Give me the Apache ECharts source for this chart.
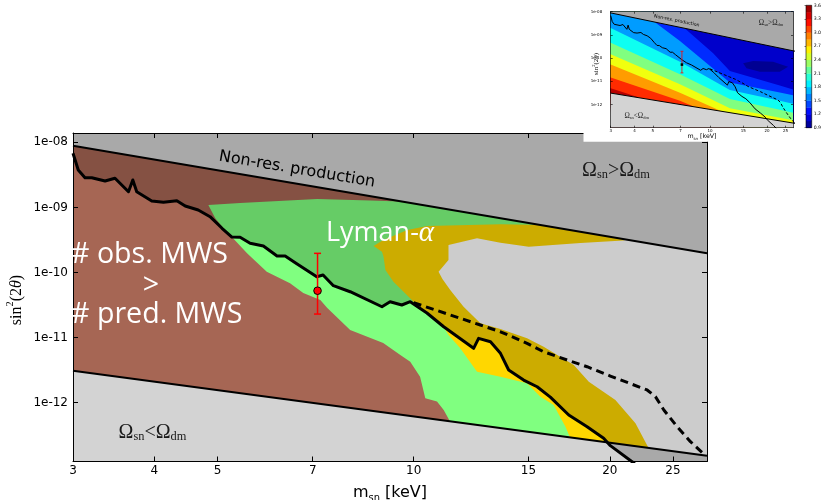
<!DOCTYPE html>
<html>
<head>
<meta charset="utf-8">
<title>Sterile neutrino parameter space</title>
<script src="https://cdn.jsdelivr.net/npm/echarts@6.0.0/dist/echarts.min.js"></script>
<style>
  html, body { margin: 0; padding: 0; background: #ffffff; }
  #chart { width: 826px; height: 500px; }
</style>
</head>
<body>
<div id="chart"></div>
<script>
// ---------- axis ranges and ticks ----------
const massRange = [3, 28.2];              // m_sn [keV], main panel
const angleRange = [1.25e-13, 1.39e-8];   // sin^2(2θ), main panel
const insetMassRange = [3, 27.4];
const insetAngleRange = [1e-13, 1e-8];
const massTicks = [3, 4, 5, 7, 10, 15, 20, 25];
const angleTicks = [1e-12, 1e-11, 1e-10, 1e-9, 1e-8];
const colorbarLevels = [0.9, 1.05, 1.2, 1.35, 1.5, 1.65, 1.8, 1.95, 2.1, 2.25, 2.4, 2.55, 2.7, 2.85, 3.0, 3.15, 3.3, 3.45, 3.6];

// ---------- relic abundance boundaries ----------
const nonResLine = [[3, 8.87e-9], [28.2, 1.97e-10]];
const underAbundantLine = [[3, 3.1e-12], [28.2, 1.53e-13]];

// ---------- Milky Way satellite limit (solid) ----------
const mwsLimit = [
  [3.00, 6.78e-9], [3.056, 3.75e-9], [3.13, 2.86e-9], [3.205, 2.86e-9], [3.36, 2.54e-9],
  [3.48, 2.80e-9], [3.65, 1.74e-9], [3.706, 2.64e-9], [3.758, 1.74e-9], [3.963, 1.25e-9],
  [4.13, 1.20e-9], [4.33, 1.27e-9], [4.46, 1.05e-9], [4.67, 9.12e-10], [4.87, 7.20e-10],
  [5.08, 4.78e-10], [5.26, 3.51e-10], [5.415, 3.47e-10], [5.61, 2.81e-10], [5.88, 2.55e-10],
  [6.17, 1.79e-10], [6.35, 1.79e-10], [6.58, 1.41e-10], [7.10, 8.62e-11], [7.26, 9.15e-11],
  [7.53, 6.27e-11], [7.99, 5.07e-11], [8.94, 2.98e-11], [9.20, 3.56e-11], [9.59, 3.17e-11],
  [9.88, 3.56e-11], [10.48, 2.39e-11], [11.12, 1.47e-11], [12.36, 6.85e-12], [12.58, 9.75e-12],
  [13.12, 8.65e-12], [13.59, 5.74e-12], [13.99, 3.18e-12], [14.75, 2.23e-12], [15.47, 1.76e-12],
  [16.21, 1.22e-12], [17.30, 6.47e-13], [18.46, 4.28e-13], [19.57, 2.84e-13], [20.04, 2.19e-13],
  [21.64, 1.24e-13], [22.4, 9.3e-14]
];

// ---------- Lyman-alpha limit (dashed) ----------
const lymanLimit = [
  [10.0, 3.44e-11], [12.66, 1.56e-11], [13.59, 1.23e-11], [14.93, 8.17e-12], [15.83, 6.07e-12],
  [17.20, 4.53e-12], [18.46, 3.57e-12], [20.04, 2.57e-12], [22.82, 1.57e-12], [23.50, 1.24e-12],
  [24.21, 7.73e-13], [25.38, 4.28e-13], [26.60, 2.52e-13], [27.88, 1.63e-13]
];

// ---------- shaded constraint regions ----------
// Lyman-alpha core region (above the satellite limit)
const lymanCore = [
  [4.84, 1.09e-9], [5.415, 1.17e-9], [7.11, 1.35e-9], [8.58, 1.28e-9], [9.54, 1.23e-9],
  [16.8, 5e-9], [16.21, 4.19e-10], [10.99, 3.77e-10], [10.68, 2.22e-10], [10.68, 2.30e-11],
  [9.88, 2.65e-11], [7.99, 3.78e-11], [6.70, 9.15e-11], [5.61, 2.22e-10], [5.23, 3.16e-10],
  [5.105, 4.78e-10], [4.96, 6.80e-10]
];
// Lyman-alpha outer band
const lymanBand = [
  [8.68, 2.55e-10], [8.98, 3.16e-10], [9.78, 4.50e-10], [10.49, 5.18e-10], [13.59, 5.50e-10],
  [15.82, 5.37e-10], [19.34, 7.64e-10], [21.67, 3.39e-10], [20.99, 3.10e-10], [18.03, 2.84e-10],
  [15.02, 2.49e-10], [13.59, 2.87e-10], [12.51, 3.35e-10], [11.31, 2.65e-10], [11.31, 1.56e-10],
  [10.92, 1.03e-10], [11.07, 7.95e-11], [11.38, 5.38e-11], [11.93, 2.98e-11], [12.66, 1.66e-11],
  [13.59, 1.36e-11], [14.93, 9.75e-12], [15.83, 7.25e-12], [17.61, 3.79e-12], [18.57, 2.10e-12],
  [20.40, 1.10e-12], [21.90, 4.83e-13], [22.95, 1.99e-13], [23.6, 1e-15], [10.0, 1e-15],
  [10.0, 3.56e-11], [9.65, 5.07e-11], [9.31, 7.22e-11], [9.05, 1.09e-10], [8.99, 1.75e-10],
  [8.94, 2.09e-10]
];
// lower edge of the Lyman-alpha region below the satellite limit
const lymanLowEdge = [
  [11.31, 1.10e-11], [11.79, 6.85e-12], [12.51, 2.99e-12], [13.59, 2.51e-12], [14.93, 1.99e-12],
  [15.65, 1.24e-12], [16.40, 9.22e-13], [17.10, 4.28e-13], [17.40, 2.84e-13]
];
// edge of the satellite-count exclusion
const mwsEdge = [
  [5.55, 1.97e-10], [5.95, 1.03e-10], [6.46, 6.83e-11], [6.77, 4.84e-11], [7.19, 3.78e-11],
  [7.37, 2.85e-11], [7.99, 1.31e-11], [8.98, 8.26e-12], [9.54, 5.40e-12], [9.88, 4.26e-12],
  [10.23, 2.51e-12], [10.42, 1.17e-12], [10.86, 1.04e-12], [11.12, 7.73e-13], [11.45, 4.55e-13]
];
const mwsUpperBlock = [[2.9, 1e-6], [10.5, 1e-6], [10.5, 1e-15], [2.9, 1e-15]];

// ---------- 3.5 keV line ----------
const signalPoint = [7.12, 5.25e-11];
const signalRange = [2.3e-11, 1.97e-10];

// ---------- inset contour edges (level crossings) ----------
const contour33 = [[3.0, 5.0e-12], [5.5, 1.0e-12]];
const contour30 = [[3.0, 1.46e-11], [6.95, 1.45e-12], [12.74, 1.82e-13]];
const contour27 = [[3.0, 5.33e-11], [6.95, 3.2e-12], [12.74, 3.5e-13], [15.59, 1.44e-13]];
const contour24 = [[3.0, 1.46e-10], [6.95, 7.43e-12], [12.74, 6.84e-13], [23.35, 2.67e-13], [27.4, 2.08e-13]];
const contour21 = [[3.0, 4.54e-10], [6.95, 2.0e-11], [12.74, 1.73e-12], [23.35, 5.92e-13], [27.4, 4.46e-13]];
const contour18 = [[3.0, 1.98e-9], [6.95, 7.0e-11], [12.74, 4.22e-12], [23.35, 1.45e-12], [27.4, 1.09e-12]];
const contour15 = [[4.2, 1.2e-8], [6.95, 5.46e-10], [12.74, 8.87e-12], [23.35, 3.29e-12], [27.4, 2.53e-12]];
const contour12 = [[5.68, 1.17e-8], [7.54, 1.63e-9], [10.40, 1.6e-10], [12.74, 2.78e-11], [23.35, 6.53e-12], [27.4, 4.46e-12]];
const contourCore = [[14.96, 5.94e-11], [16.89, 7.5e-11], [21.52, 7.0e-11], [25.81, 4.28e-11], [23.35, 2.6e-11], [18.32, 2.6e-11], [15.59, 3.62e-11]];
const contourBands = [
  [contour33, 3.15], [contour30, 2.85], [contour27, 2.55], [contour24, 2.25],
  [contour21, 1.95], [contour18, 1.65], [contour15, 1.35], [contour12, 1.1]
];

// ---------- helpers ----------
const log = Math.log10;
const FAR_LOW = 1e-15, FAR_HIGH = 1e-6, FAR_LEFT = 2.9, FAR_RIGHT = 30;
const toXY = p => [log(p[0]), log(p[1])];
const last = a => a[a.length - 1];

function lineLog(line, m) {
  const a = line[0], b = line[1];
  const t = (log(m) - log(a[0])) / (log(b[0]) - log(a[0]));
  return log(a[1]) + t * (log(b[1]) - log(a[1]));
}
function crossing(curvePts, line) {
  for (let i = 1; i < curvePts.length; i++) {
    const d0 = log(curvePts[i - 1][1]) - lineLog(line, curvePts[i - 1][0]);
    const d1 = log(curvePts[i][1]) - lineLog(line, curvePts[i][0]);
    if (d0 > 0 && d1 <= 0) {
      const t = d0 / (d0 - d1);
      const lm = log(curvePts[i - 1][0]) + t * (log(curvePts[i][0]) - log(curvePts[i - 1][0]));
      const ls = log(curvePts[i - 1][1]) + t * (log(curvePts[i][1]) - log(curvePts[i - 1][1]));
      return { index: i, point: [Math.pow(10, lm), Math.pow(10, ls)] };
    }
  }
  return null;
}
function jet(v) {
  const t = (v - colorbarLevels[0]) / (last(colorbarLevels) - colorbarLevels[0]);
  const c = k => Math.round(255 * Math.max(0, Math.min(1, 1.5 - Math.abs(4 * t - k))));
  return 'rgb(' + c(3) + ',' + c(2) + ',' + c(1) + ')';
}

function region(points, color, axis, z) {
  return {
    type: 'custom', xAxisIndex: axis, yAxisIndex: axis, z: z, silent: true, clip: true, animation: false,
    data: [toXY(points[0])],
    renderItem: (params, api) => ({
      type: 'polygon',
      shape: { points: points.map(p => api.coord(toXY(p))) },
      style: { fill: color }
    })
  };
}
function curve(points, axis, width, dash, z) {
  return {
    type: 'line', xAxisIndex: axis, yAxisIndex: axis, z: z, silent: true, animation: false,
    symbol: 'none', clip: true, data: points.map(toXY),
    lineStyle: { color: '#000', width: width, type: dash || 'solid', cap: 'butt', join: 'round' }
  };
}
function signal(axis, z, opt) {
  return {
    type: 'custom', xAxisIndex: axis, yAxisIndex: axis, z: z, silent: true, clip: false, animation: false,
    data: [[log(signalPoint[0]), log(signalPoint[1]), log(signalRange[0]), log(signalRange[1])]],
    renderItem: (params, api) => {
      const x = api.value(0);
      const c = api.coord([x, api.value(1)]);
      const lo = api.coord([x, api.value(2)]);
      const hi = api.coord([x, api.value(3)]);
      const bar = { stroke: '#ff0000', lineWidth: opt.lw };
      const marker = opt.square
        ? { type: 'rect', shape: { x: c[0] - opt.r, y: c[1] - opt.r, width: 2 * opt.r, height: 2 * opt.r }, style: { fill: '#000' } }
        : { type: 'circle', shape: { cx: c[0], cy: c[1], r: opt.r }, style: { fill: '#ff0000', stroke: '#000', lineWidth: 1 } };
      return {
        type: 'group', children: [
          { type: 'line', shape: { x1: lo[0], y1: lo[1], x2: hi[0], y2: hi[1] }, style: bar },
          { type: 'line', shape: { x1: lo[0] - opt.cap, y1: lo[1], x2: lo[0] + opt.cap, y2: lo[1] }, style: bar },
          { type: 'line', shape: { x1: hi[0] - opt.cap, y1: hi[1], x2: hi[0] + opt.cap, y2: hi[1] }, style: bar },
          marker
        ]
      };
    }
  };
}
function bandAbove(edge) {
  return [[FAR_LEFT, edge[0][1]], ...edge, [last(edge)[0], FAR_LOW], [FAR_RIGHT, FAR_LOW], [FAR_RIGHT, FAR_HIGH], [FAR_LEFT, FAR_HIGH]];
}

// axes
function massAxis(grid, position, labels, range, o) {
  const ticks = massTicks.map(log);
  return {
    type: 'value', gridIndex: grid, position: position, min: log(range[0]), max: log(range[1]), z: o.z,
    axisLine: { show: true, onZero: false, lineStyle: { color: '#000', width: o.lw } },
    axisTick: { show: true, inside: true, length: o.tick, customValues: ticks, lineStyle: { color: '#000', width: o.lw } },
    axisLabel: { show: labels, customValues: ticks, margin: o.margin, fontFamily: 'DejaVu Sans', fontSize: o.font, color: '#000',
      formatter: v => String(Math.round(Math.pow(10, v))) },
    splitLine: { show: false }
  };
}
function angleAxis(grid, position, labels, range, o) {
  const ticks = angleTicks.map(log);
  return {
    type: 'value', gridIndex: grid, position: position, min: log(range[0]), max: log(range[1]), z: o.z,
    axisLine: { show: true, onZero: false, lineStyle: { color: '#000', width: o.lw } },
    axisTick: { show: true, inside: true, length: o.tick, customValues: ticks, lineStyle: { color: '#000', width: o.lw } },
    axisLabel: { show: labels, customValues: ticks, margin: o.margin, fontFamily: 'DejaVu Sans', fontSize: o.font, color: '#000',
      formatter: v => '1e-' + String(Math.round(-v)).padStart(2, '0') },
    splitLine: { show: false }
  };
}

// ---------- composed regions ----------
const topRegion = [...nonResLine, [nonResLine[1][0] + 2, FAR_HIGH], [FAR_LEFT, FAR_HIGH]];
const bottomRegion = [...underAbundantLine, [underAbundantLine[1][0] + 2, FAR_LOW], [FAR_LEFT, FAR_LOW]];
const brownRegion = [[FAR_LEFT, mwsLimit[0][1]], ...mwsLimit.slice(0, 17), ...mwsEdge, [last(mwsEdge)[0], FAR_LOW], [FAR_LEFT, FAR_LOW]];
const lightGreenRegion = [...mwsLimit.slice(15, 33), ...lymanLowEdge, [last(lymanLowEdge)[0], FAR_LOW], [mwsLimit[15][0], FAR_LOW]];
const yellowRegion = [...mwsLimit.slice(32, 45), [mwsLimit[44][0], FAR_LOW], [mwsLimit[32][0], FAR_LOW]];
const cross = crossing(mwsLimit, underAbundantLine);
const cornerRegion = [cross.point, ...mwsLimit.slice(cross.index), [last(mwsLimit)[0], FAR_LOW], [FAR_RIGHT, FAR_LOW],
  [FAR_RIGHT, Math.pow(10, lineLog(underAbundantLine, FAR_RIGHT))]];

const COLORS = {
  darkGray: '#a9a9a9', lightGray: '#d3d3d3', bay: '#cccccc',
  brown: '#a66654', darkBrown: '#855143',
  green: '#80ff80', darkGreen: '#66cc66',
  yellow: '#ffd700', gold: '#ccac00'
};

const series = [
  // main panel
  region(mwsUpperBlock, COLORS.darkBrown, 0, 1),
  region(lymanCore, COLORS.darkGreen, 0, 2),
  region(lymanBand, COLORS.gold, 0, 3),
  region(yellowRegion, COLORS.yellow, 0, 4),
  region(lightGreenRegion, COLORS.green, 0, 5),
  region(brownRegion, COLORS.brown, 0, 6),
  region(topRegion, COLORS.darkGray, 0, 7),
  region(bottomRegion, COLORS.lightGray, 0, 7),
  region(cornerRegion, COLORS.darkGray, 0, 8),
  curve(nonResLine, 0, 2, null, 9),
  curve(underAbundantLine, 0, 2, null, 9),
  curve(lymanLimit, 0, 3, [8, 5], 10),
  curve(mwsLimit, 0, 3, null, 10),
  signal(0, 11, { lw: 1.5, cap: 3.5, r: 3.8, square: false }),

  // inset panel
  region([[FAR_LEFT, FAR_LOW], [FAR_RIGHT, FAR_LOW], [FAR_RIGHT, FAR_HIGH], [FAR_LEFT, FAR_HIGH]], jet(3.45), 2, 40),
  ...contourBands.map(b => region(bandAbove(b[0]), jet(b[1]), 2, 41)),
  region(contourCore, jet(0.95), 2, 42),
  region(topRegion, COLORS.darkGray, 2, 43),
  region(bottomRegion, COLORS.lightGray, 2, 43),
  curve(nonResLine, 2, 1, null, 44),
  curve(underAbundantLine, 2, 1, null, 44),
  curve(lymanLimit, 2, 1, [3, 2], 45),
  curve(mwsLimit, 2, 1, null, 45),
  signal(2, 46, { lw: 0.8, cap: 1.5, r: 1.3, square: true }),

  // colour bar
  {
    type: 'custom', xAxisIndex: 4, yAxisIndex: 4, z: 42, silent: true, animation: false,
    data: colorbarLevels.slice(0, -1).map((v, i) => [0, v, colorbarLevels[i + 1]]),
    renderItem: (params, api) => {
      const a = api.coord([0, api.value(1)]);
      const b = api.coord([1, api.value(2)]);
      return { type: 'rect', shape: { x: a[0], y: b[1], width: b[0] - a[0], height: a[1] - b[1] + 0.3 },
        style: { fill: jet((api.value(1) + api.value(2)) / 2) } };
    }
  }
];

const serif = 'Liberation Serif';
function omegaText(x, y, rel, size, z) {
  return {
    type: 'text', x: x, y: y, z: z, silent: true,
    style: {
      text: '{a|Ω}{s|sn}{a|' + rel + 'Ω}{s|dm}', align: 'center', verticalAlign: 'middle',
      rich: {
        a: { fontFamily: serif, fontSize: size, lineHeight: size * 1.0, verticalAlign: 'top', fill: '#1a1a1a' },
        s: { fontFamily: serif, fontSize: size * 0.62, lineHeight: size * 0.62, verticalAlign: 'bottom', fill: '#1a1a1a' }
      }
    }
  };
}
function massTitle(x, y, size, z) {
  return {
    type: 'text', x: x, y: y, z: z, silent: true,
    style: {
      text: '{m|m}{s|sn}{m| [keV]}', align: 'center', verticalAlign: 'middle',
      rich: {
        m: { fontFamily: 'DejaVu Sans', fontSize: size, lineHeight: size * 1.15, verticalAlign: 'top', fill: '#000' },
        s: { fontFamily: 'DejaVu Sans', fontSize: size * 0.62, lineHeight: size * 0.62, verticalAlign: 'bottom', fill: '#000' }
      }
    }
  };
}
function angleTitle(x, y, size, z) {
  return {
    type: 'text', x: x, y: y, z: z, silent: true, rotation: Math.PI / 2,
    style: {
      text: '{r|sin}{p|2}{r|(2}{i|θ}{r|)}', align: 'center', verticalAlign: 'middle',
      rich: {
        r: { fontFamily: serif, fontSize: size, lineHeight: size * 1.25, verticalAlign: 'bottom', fill: '#000' },
        i: { fontFamily: serif, fontStyle: 'italic', fontSize: size, lineHeight: size * 1.25, verticalAlign: 'bottom', fill: '#000' },
        p: { fontFamily: serif, fontSize: size * 0.65, lineHeight: size * 0.65, verticalAlign: 'top', fill: '#000' }
      }
    }
  };
}
const whiteText = (x, y, text, align) => ({
  type: 'text', x: x, y: y, z: 25, silent: true,
  style: { text: text, fontFamily: 'Open Sans', fontSize: 28.6, fill: '#ffffff', align: align, verticalAlign: 'middle' }
});

const graphics = [
  { type: 'text', x: 297, y: 169.5, rotation: -0.1676, z: 25, silent: true,
    style: { text: 'Non-res. production', fontFamily: 'DejaVu Sans', fontSize: 16, fill: '#000', align: 'center', verticalAlign: 'middle' } },
  omegaText(616, 171, '>', 20, 25),
  omegaText(152.5, 432.5, '<', 20, 25),
  whiteText(71, 255, '# obs. MWS', 'left'),
  whiteText(151, 285.5, '>', 'center'),
  whiteText(71, 314.5, '# pred. MWS', 'left'),
  { type: 'text', x: 326, y: 233, z: 25, silent: true,
    style: { text: '{a|Lyman-}{b|α}', align: 'left', verticalAlign: 'middle',
      rich: { a: { fontFamily: 'Open Sans', fontSize: 27, fill: '#ffffff' },
              b: { fontFamily: serif, fontStyle: 'italic', fontSize: 29, fill: '#ffffff' } } } },
  massTitle(390, 494.5, 16, 25),
  angleTitle(15, 300, 16, 25),

  // inset backdrop and labels
  { type: 'rect', z: 30, silent: true, shape: { x: 583.5, y: 0, width: 243, height: 141.7 }, style: { fill: '#ffffff' } },
  { type: 'text', x: 676.7, y: 20.7, rotation: -0.2025, z: 60, silent: true,
    style: { text: 'Non-res. production', fontFamily: 'DejaVu Sans', fontSize: 4.7, fill: '#000', align: 'center', verticalAlign: 'middle' } },
  omegaText(771, 23, '>', 7.2, 60),
  omegaText(636.7, 116, '<', 7.2, 60),
  massTitle(702, 137.3, 6.3, 60),
  angleTitle(595.5, 64, 7, 60)
];

const option = {
  animation: false,
  backgroundColor: '#ffffff',
  grid: [
    { left: 73, top: 133, width: 634, height: 328.5, show: true, backgroundColor: COLORS.bay, borderWidth: 0, z: 0 },
    { left: 610.7, top: 11.7, width: 182.3, height: 116, show: false, z: 35 },
    { left: 806, top: 5.3, width: 5.7, height: 122.4, show: true, backgroundColor: 'transparent', borderColor: '#000', borderWidth: 0.6, z: 47 }
  ],
  xAxis: [
    massAxis(0, 'bottom', true, massRange, { z: 20, lw: 1, tick: 5, margin: 3.5, font: 12 }),
    massAxis(0, 'top', false, massRange, { z: 20, lw: 1, tick: 5, margin: 3.5, font: 12 }),
    massAxis(1, 'bottom', true, insetMassRange, { z: 55, lw: 0.6, tick: 2, margin: 1.5, font: 4 }),
    massAxis(1, 'top', false, insetMassRange, { z: 55, lw: 0.6, tick: 2, margin: 1.5, font: 4 }),
    { type: 'value', gridIndex: 2, min: 0, max: 1, show: false }
  ],
  yAxis: [
    angleAxis(0, 'left', true, angleRange, { z: 20, lw: 1, tick: 5, margin: 5, font: 12 }),
    angleAxis(0, 'right', false, angleRange, { z: 20, lw: 1, tick: 5, margin: 5, font: 12 }),
    angleAxis(1, 'left', true, insetAngleRange, { z: 55, lw: 0.6, tick: 2, margin: 8.5, font: 4 }),
    angleAxis(1, 'right', false, insetAngleRange, { z: 55, lw: 0.6, tick: 2, margin: 8.5, font: 4 }),
    { type: 'value', gridIndex: 2, position: 'right', min: 0.9, max: 3.6, interval: 0.3, z: 55,
      axisLine: { show: false }, axisTick: { show: true, inside: true, length: 1.5, lineStyle: { color: '#000', width: 0.5 } },
      axisLabel: { show: true, margin: 2, fontFamily: 'DejaVu Sans', fontSize: 4.6, color: '#000', formatter: v => v.toFixed(1) },
      splitLine: { show: false } }
  ],
  series: series,
  graphic: { elements: graphics }
};

const chart = echarts.init(document.getElementById('chart'), null, { renderer: 'canvas', width: 826, height: 500 });
chart.setOption(option);
</script>
</body>
</html>
